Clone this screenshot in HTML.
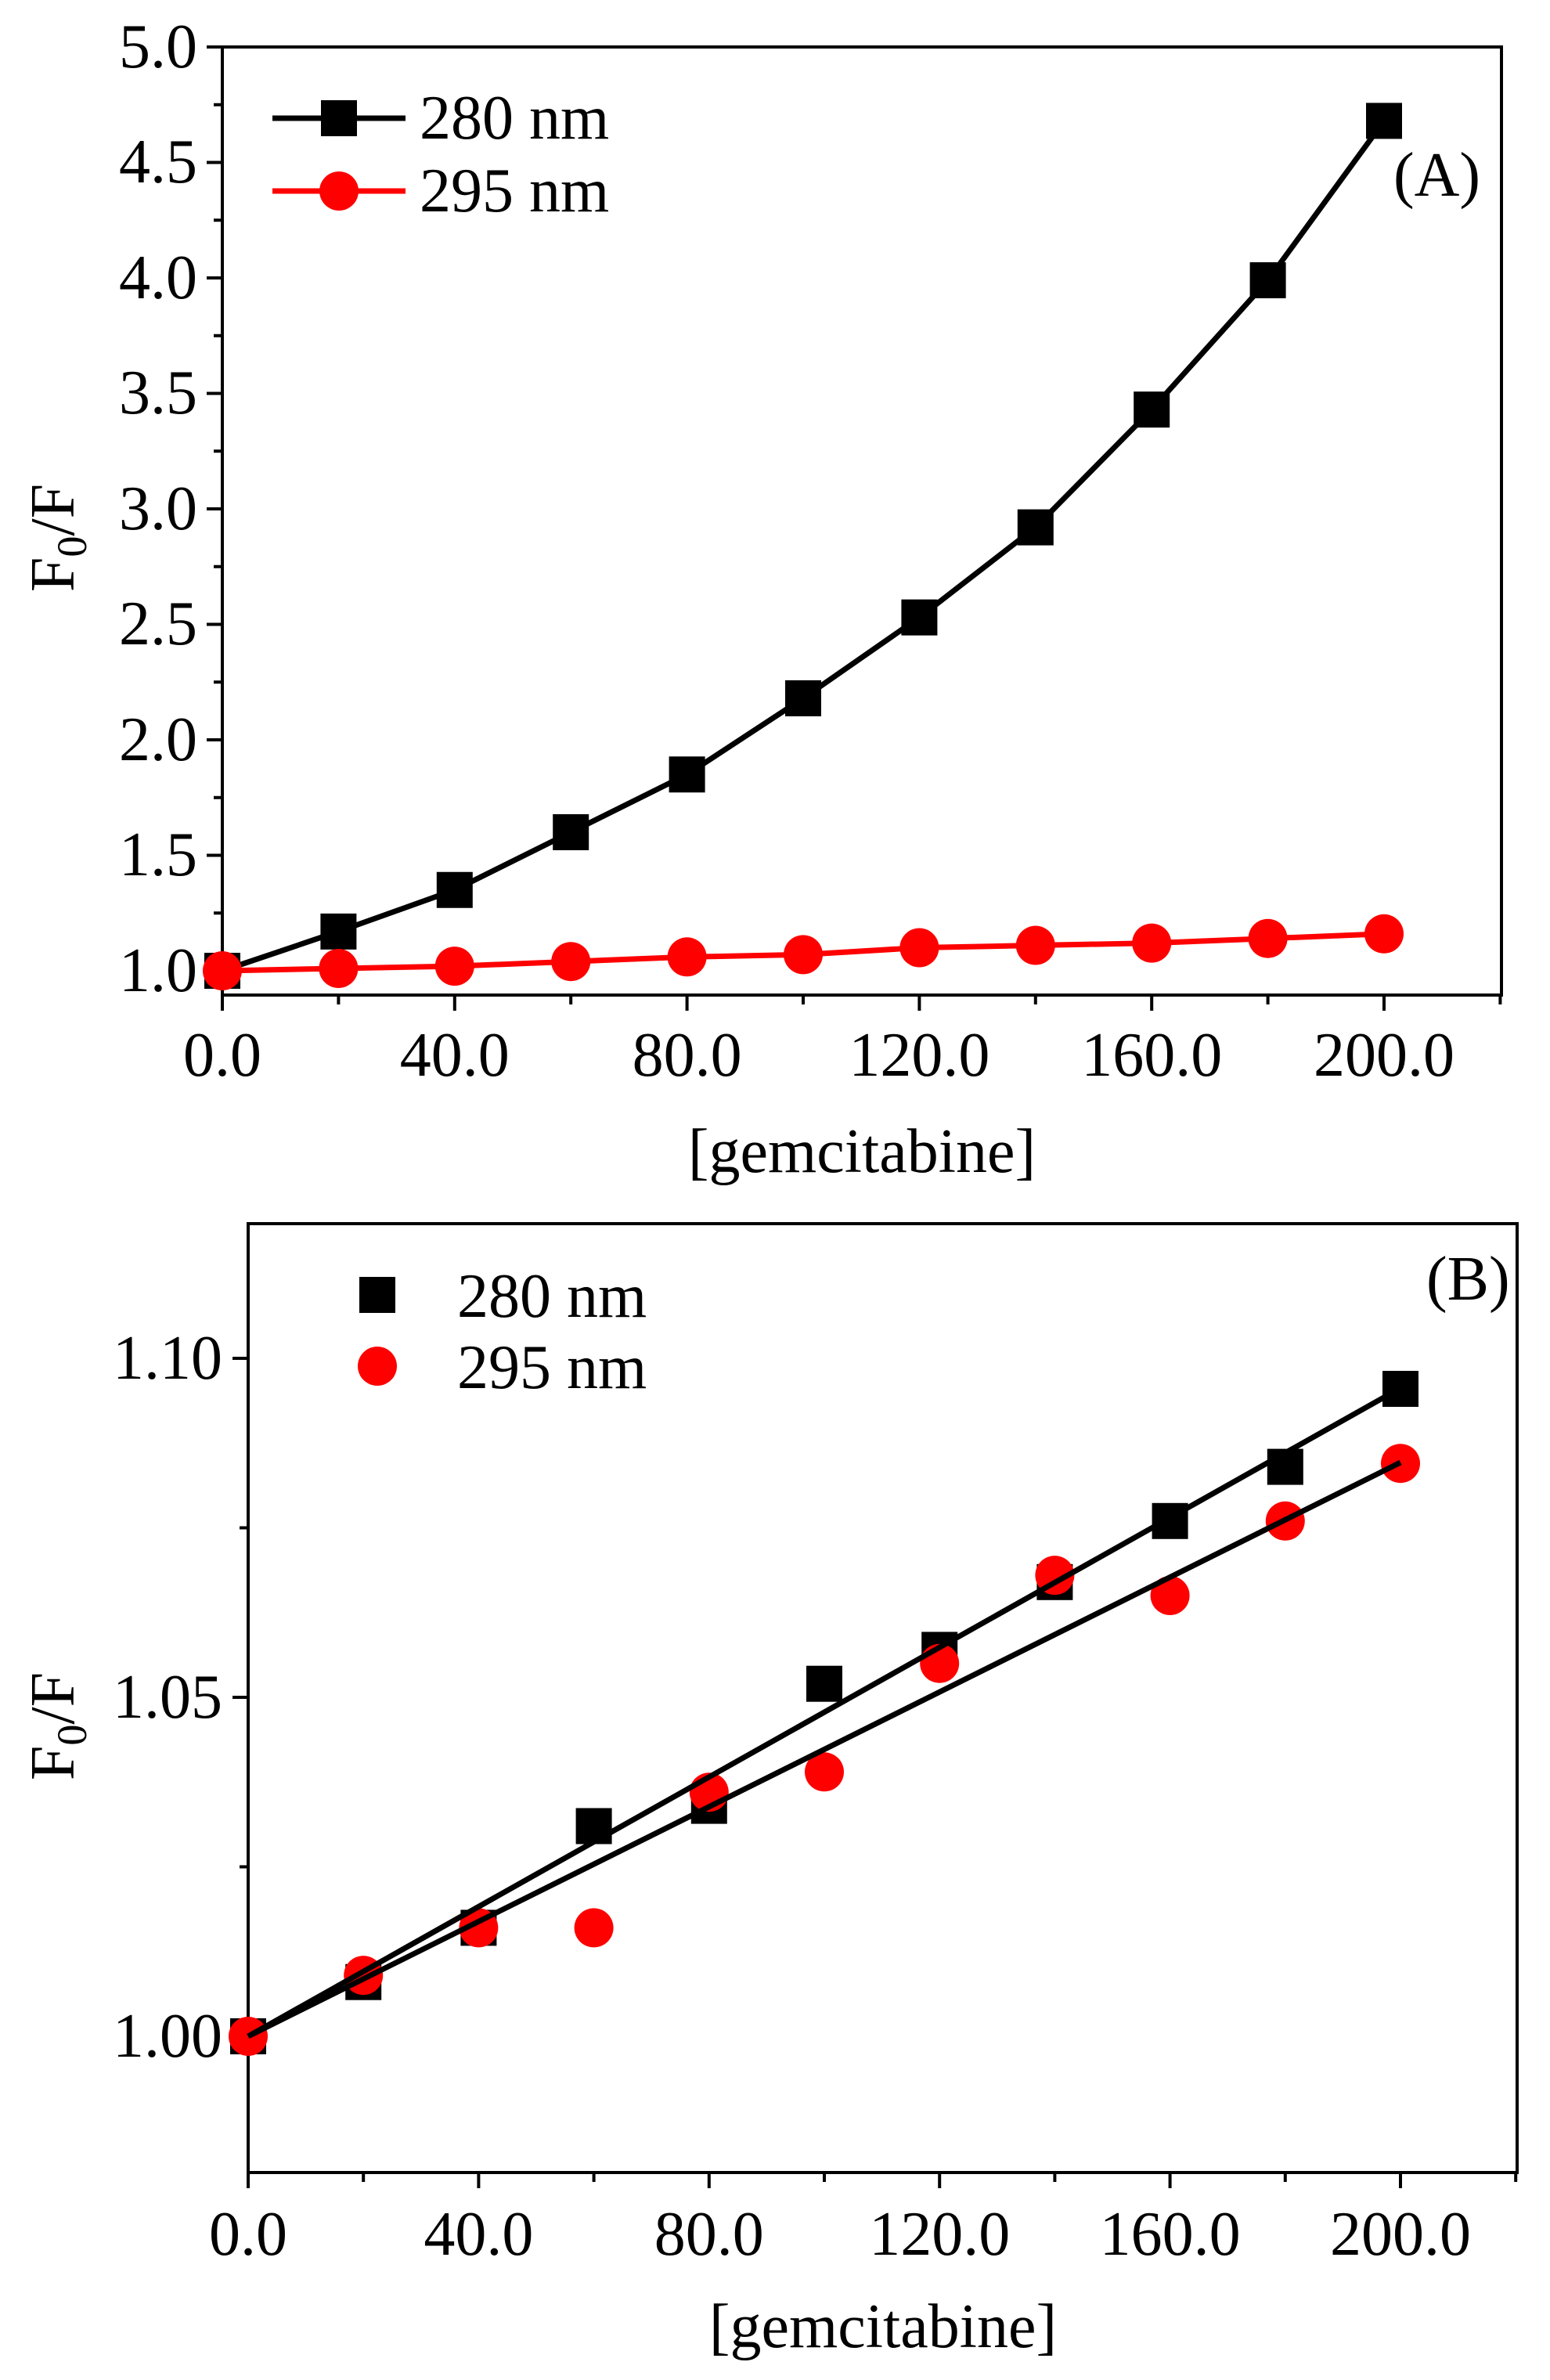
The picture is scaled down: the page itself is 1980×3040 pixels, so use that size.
<!DOCTYPE html>
<html><head><meta charset="utf-8"><style>html,body{margin:0;padding:0;background:#fff}svg{display:block}text{font-family:"Liberation Serif","Times New Roman",serif;font-size:80px}</style></head>
<body>
<svg width="1980" height="3040" viewBox="0 0 1980 3040" xmlns="http://www.w3.org/2000/svg">
<rect width="1980" height="3040" fill="#fff"/>
<!-- Panel A -->
<g stroke="#000" stroke-width="4" fill="none">
<rect x="284" y="60" width="1634" height="1211"/>
<path d="M284 60h-20M284 207.5h-20M284 355h-20M284 502.5h-20M284 650h-20M284 797.5h-20M284 945h-20M284 1092.5h-20M284 1240h-20
M284 133.75h-11M284 281.25h-11M284 428.75h-11M284 576.25h-11M284 723.75h-11M284 871.25h-11M284 1018.75h-11M284 1166.25h-11
M284 1271v20M580.8 1271v20M877.6 1271v20M1174.4 1271v20M1471.2 1271v20M1768 1271v20
M432.4 1271v12M729.2 1271v12M1026 1271v12M1322.8 1271v12M1619.6 1271v12M1916.4 1271v12"/>
</g>
<g text-anchor="end">
<text x="252" y="86">5.0</text><text x="252" y="233">4.5</text><text x="252" y="381">4.0</text><text x="252" y="528">3.5</text><text x="252" y="676">3.0</text><text x="252" y="823">2.5</text><text x="252" y="971">2.0</text><text x="252" y="1118">1.5</text><text x="252" y="1266">1.0</text>
</g>
<g text-anchor="middle">
<text x="284" y="1374">0.0</text><text x="580.8" y="1374">40.0</text><text x="877.6" y="1374">80.0</text><text x="1174.4" y="1374">120.0</text><text x="1471.2" y="1374">160.0</text><text x="1768" y="1374">200.0</text>
<text x="1101" y="1497">[gemcitabine]</text>
</g>
<text transform="translate(94,687) rotate(-90)" text-anchor="middle">F<tspan style="font-size:54px" dy="16">0</tspan><tspan dy="-16">/F</tspan></text>
<text x="1780" y="250">(A)</text>
<polyline fill="none" stroke="#000" stroke-width="7" points="284,1240 432.4,1189.85 580.8,1136.75 729.2,1063 877.6,989.25 1026,891.9 1174.4,788.65 1322.8,673.6 1471.2,523.15 1619.6,357.95 1768,154.4"/>
<g fill="#000">
<rect x="261" y="1217" width="46" height="46"/><rect x="409.4" y="1166.85" width="46" height="46"/><rect x="557.8" y="1113.75" width="46" height="46"/><rect x="706.2" y="1040" width="46" height="46"/><rect x="854.6" y="966.25" width="46" height="46"/><rect x="1003" y="868.9" width="46" height="46"/><rect x="1151.4" y="765.65" width="46" height="46"/><rect x="1299.8" y="650.6" width="46" height="46"/><rect x="1448.2" y="500.15" width="46" height="46"/><rect x="1596.6" y="334.95" width="46" height="46"/><rect x="1745" y="131.4" width="46" height="46"/>
</g>
<polyline fill="none" stroke="#f00" stroke-width="7" points="284,1240 432.4,1237 580.8,1234.1 729.2,1228.2 877.6,1222.3 1026,1219.35 1174.4,1210.5 1322.8,1207.55 1471.2,1204.6 1619.6,1198.7 1768,1192.8"/>
<g fill="#f00">
<circle cx="284" cy="1240" r="25"/><circle cx="432.4" cy="1237" r="25"/><circle cx="580.8" cy="1234.1" r="25"/><circle cx="729.2" cy="1228.2" r="25"/><circle cx="877.6" cy="1222.3" r="25"/><circle cx="1026" cy="1219.35" r="25"/><circle cx="1174.4" cy="1210.5" r="25"/><circle cx="1322.8" cy="1207.55" r="25"/><circle cx="1471.2" cy="1204.6" r="25"/><circle cx="1619.6" cy="1198.7" r="25"/><circle cx="1768" cy="1192.8" r="25"/>
</g>
<line x1="348" y1="151" x2="518" y2="151" stroke="#000" stroke-width="7"/>
<rect x="410" y="128" width="46" height="46" fill="#000"/>
<line x1="348" y1="244" x2="518" y2="244" stroke="#f00" stroke-width="7"/>
<circle cx="433" cy="244" r="25" fill="#f00"/>
<text x="536" y="177">280 nm</text>
<text x="536" y="270">295 nm</text>

<!-- Panel B -->
<g stroke="#000" stroke-width="4" fill="none">
<rect x="317" y="1563" width="1621" height="1212"/>
<path d="M317 1735h-20M317 2168h-20M317 2601h-20M317 1951.5h-11M317 2384.5h-11
M317 2775v20M611.4 2775v20M905.8 2775v20M1200.2 2775v20M1494.6 2775v20M1789 2775v20
M464.2 2775v12M758.6 2775v12M1053 2775v12M1347.4 2775v12M1641.8 2775v12M1936.2 2775v12"/>
</g>
<g text-anchor="end">
<text x="284" y="1761">1.10</text><text x="284" y="2194">1.05</text><text x="284" y="2627">1.00</text>
</g>
<g text-anchor="middle">
<text x="317" y="2880">0.0</text><text x="611.4" y="2880">40.0</text><text x="905.8" y="2880">80.0</text><text x="1200.2" y="2880">120.0</text><text x="1494.6" y="2880">160.0</text><text x="1789" y="2880">200.0</text>
<text x="1128" y="2998">[gemcitabine]</text>
</g>
<text transform="translate(94,2205) rotate(-90)" text-anchor="middle">F<tspan style="font-size:54px" dy="16">0</tspan><tspan dy="-16">/F</tspan></text>
<text x="1822" y="1660">(B)</text>
<g fill="#000">
<rect x="294" y="2578" width="46" height="46"/><rect x="441.2" y="2508.7" width="46" height="46"/><rect x="588.4" y="2439.4" width="46" height="46"/><rect x="735.6" y="2309.5" width="46" height="46"/><rect x="882.8" y="2283.6" width="46" height="46"/><rect x="1030" y="2127.7" width="46" height="46"/><rect x="1177.2" y="2084.4" width="46" height="46"/><rect x="1324.4" y="1997.8" width="46" height="46"/><rect x="1471.6" y="1919.8" width="46" height="46"/><rect x="1618.8" y="1850.6" width="46" height="46"/><rect x="1766" y="1751" width="46" height="46"/>
</g>
<g fill="#f00">
<circle cx="317" cy="2601" r="25"/><circle cx="464.2" cy="2523.1" r="25"/><circle cx="611.4" cy="2462.4" r="25"/><circle cx="758.6" cy="2462.4" r="25"/><circle cx="905.8" cy="2289.2" r="25"/><circle cx="1053" cy="2263.3" r="25"/><circle cx="1200.2" cy="2124.7" r="25"/><circle cx="1347.4" cy="2012.1" r="25"/><circle cx="1494.6" cy="2038" r="25"/><circle cx="1641.8" cy="1942.8" r="25"/><circle cx="1789" cy="1869.2" r="25"/>
</g>
<line x1="317" y1="2601" x2="1789" y2="1773" stroke="#000" stroke-width="7"/>
<line x1="317" y1="2601" x2="1789" y2="1868" stroke="#000" stroke-width="7"/>
<rect x="459" y="1631" width="46" height="46" fill="#000"/>
<circle cx="482" cy="1745" r="25" fill="#f00"/>
<text x="584" y="1682">280 nm</text>
<text x="584" y="1773">295 nm</text>
</svg>
</body></html>
